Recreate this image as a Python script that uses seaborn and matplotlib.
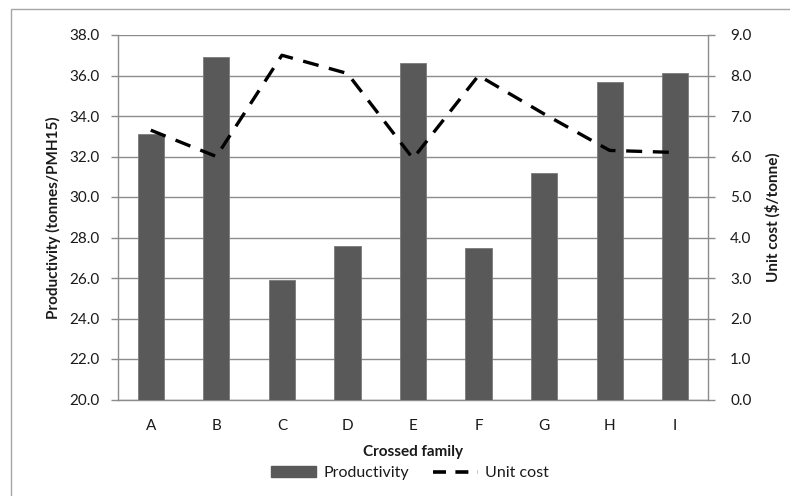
import matplotlib
matplotlib.use("Agg")
import matplotlib.pyplot as plt
from matplotlib.patches import Rectangle
from matplotlib.lines import Line2D
import numpy as np
import pandas as pd
import seaborn as sns

# Crossed family trial results
families = ["A", "B", "C", "D", "E", "F", "G", "H", "I"]
productivity = [33.1, 36.9, 25.9, 27.6, 36.6, 27.5, 31.2, 35.7, 36.1]   # tonnes/PMH15
unit_cost = [6.65, 6.0, 8.5, 8.05, 5.95, 8.0, 7.05, 6.15, 6.1]          # $/tonne

left_ticks = np.arange(20, 38.01, 2)
right_ticks = np.arange(0, 9.01, 1)

df = pd.DataFrame({"family": families, "productivity": productivity, "cost": unit_cost})

sns.set_theme(style="white")
plt.rcParams["font.family"] = ["Lato", "DejaVu Sans"]

FS = 11
W, H = 790, 496
fig = plt.figure(figsize=(W / 100, H / 100), dpi=100)
ax = fig.add_axes([118 / W, 1 - 399.5 / H, (708 - 118) / W, (399.5 - 35) / H])

grid_col = "#8c8c8c"
bar_col = "#595959"
txt_col = "#1a1a1a"

sns.barplot(data=df, x="family", y="productivity", color=bar_col, width=0.4,
            saturation=1, ax=ax, zorder=3)
for p in ax.patches:
    p.set_edgecolor("#7a7a7a")
    p.set_linewidth(0.6)

ax.set_ylim(20, 38)
ax.set_yticks(left_ticks)
ax.set_yticklabels([f"{v:.1f}" for v in left_ticks])
ax.set_xlim(-0.5, len(families) - 0.5)
ax.yaxis.grid(True, color=grid_col, linewidth=1.0, zorder=0)
ax.set_axisbelow(True)

ax2 = ax.twinx()
sns.lineplot(data=df, x="family", y="cost", sort=False, color="black",
             linewidth=2.4, ax=ax2, zorder=4)
ax2.lines[0].set_dashes((4.8, 3.2))
ax2.lines[0].set_dash_capstyle("butt")
ax2.set_ylim(0, 9)
ax2.set_yticks(right_ticks)
ax2.set_yticklabels([f"{v:.1f}" for v in right_ticks])
ax2.set_xlim(-0.5, len(families) - 0.5)

for a in (ax, ax2):
    for s in a.spines.values():
        s.set_visible(False)
ax.spines["left"].set_visible(True)
ax.spines["bottom"].set_visible(True)
ax2.spines["right"].set_visible(True)
for s in (ax.spines["left"], ax.spines["bottom"], ax2.spines["right"]):
    s.set_color(grid_col)
    s.set_linewidth(1.0)

# category ticks sit on the boundaries between families
ax.set_xticks(np.arange(len(families)))
ax.set_xticklabels(families)
ax.set_xticks(np.arange(-0.5, len(families), 1), minor=True)
ax.tick_params(axis="x", which="major", length=0, pad=14, labelsize=FS, labelcolor=txt_col)
ax.tick_params(axis="x", which="minor", length=5, width=1.0, color=grid_col, direction="out")
ax.tick_params(axis="y", length=5, width=1.0, color=grid_col, direction="out",
               labelsize=FS, labelcolor=txt_col, left=True, pad=8)
ax2.tick_params(axis="y", length=5, width=1.0, color=grid_col, direction="out",
                labelsize=FS, labelcolor=txt_col, right=True, pad=11)

ax.set_xlabel("Crossed family", fontsize=FS, fontweight="bold", color=txt_col, labelpad=9)
ax.set_ylabel("Productivity (tonnes/PMH15)", fontsize=FS, fontweight="bold", color=txt_col, labelpad=6)
ax2.set_ylabel("Unit cost ($/tonne)", fontsize=FS, fontweight="bold", color=txt_col, labelpad=10)

handles = [
    Rectangle((0, 0), 1, 1, facecolor=bar_col, edgecolor=bar_col),
    Line2D([0], [0], color="black", linewidth=2.6, dashes=(3.6, 2.6), dash_capstyle="butt"),
]
fig.legend(handles, ["Productivity", "Unit cost"], loc="center",
           bbox_to_anchor=(410 / W, 1 - 473 / H), ncol=2, frameon=False,
           fontsize=11.5, handlelength=2.8, handleheight=0.65, columnspacing=1.5,
           handletextpad=0.45, labelcolor=txt_col, borderpad=0)

# chart frame
fig.patches.append(Rectangle((11 / W, -0.1), 1.2, 1 - 9 / H + 0.1, transform=fig.transFigure,
                             fill=False, edgecolor="#a6a6a6", linewidth=1.0, zorder=-1))

fig.savefig("out.png", dpi=100)
